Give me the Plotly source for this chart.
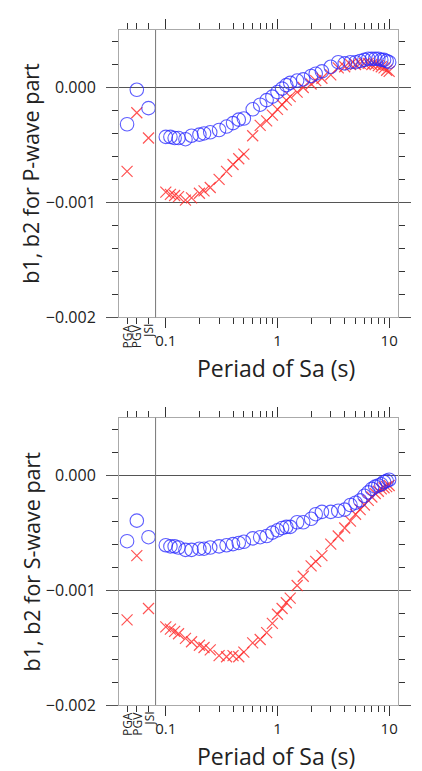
import math
import plotly.graph_objects as go

# periods of Sa (s), plus the PGA / PGV / JSI columns drawn left of the 0.1 s tick
periods = [0.1, 0.11, 0.12, 0.13, 0.15, 0.17, 0.2, 0.22, 0.25, 0.3, 0.35, 0.4, 0.45, 0.5,
           0.6, 0.7, 0.8, 0.9, 1.0, 1.1, 1.2, 1.3, 1.5, 1.7, 2.0, 2.2, 2.5, 3.0, 3.5, 4.0,
           4.5, 5.0, 5.5, 6.0, 6.5, 7.0, 7.5, 8.0, 8.5, 9.0, 9.5, 10.0]
special_names = ['PGA', 'PGV', 'JSI']
special_x = [0.045, 0.055, 0.07]
split_x = 0.081

# P-wave part
p_b1_special = [-0.00032, -0.00002, -0.00018]
p_b1 = [-0.00043, -0.00043, -0.00044, -0.00044, -0.00045, -0.00042, -0.00041, -0.0004,
        -0.00039, -0.00037, -0.00034, -0.00031, -0.00028, -0.00027, -0.00019, -0.00015,
        -0.00011, -0.00008, -0.00004, -0.00001, 0.00002, 0.00004, 0.00006, 0.00007,
        0.0001, 0.00012, 0.00014, 0.00018, 0.00022, 0.00021, 0.00022, 0.00022, 0.00023,
        0.00024, 0.00025, 0.00025, 0.00025, 0.00025, 0.00024, 0.00024, 0.00023, 0.00022]
p_b2_special = [-0.00073, -0.00022, -0.00044]
p_b2 = [-0.00091, -0.00093, -0.00094, -0.00095, -0.00098, -0.00096, -0.00092, -0.0009,
        -0.00087, -0.0008, -0.00073, -0.00067, -0.00062, -0.00058, -0.00042, -0.00033,
        -0.00029, -0.00024, -0.00019, -0.00015, -0.00011, -0.00008, -0.00004, 0.0,
        0.00003, 0.00006, 0.00008, 0.00011, 0.00017, 0.00018, 0.0002, 0.0002, 0.00021,
        0.00021, 0.00021, 0.0002, 0.0002, 0.00019, 0.00018, 0.00017, 0.00015, 0.00014]

# S-wave part
s_b1_special = [-0.000575, -0.000396, -0.00054]
s_b1 = [-0.00061, -0.00062, -0.00062, -0.00063, -0.00065, -0.00065, -0.00064, -0.00064,
        -0.00063, -0.00062, -0.00061, -0.0006, -0.00059, -0.00058, -0.00055, -0.00054,
        -0.00053, -0.0005, -0.00048, -0.00046, -0.00045, -0.00045, -0.00041, -0.00041,
        -0.00038, -0.00034, -0.00032, -0.00032, -0.00031, -0.0003, -0.00026, -0.00024,
        -0.00022, -0.00018, -0.00015, -0.00012, -0.0001, -0.00009, -0.00008, -0.00006,
        -0.00005, -0.00004]
s_b2_special = [-0.00126, -0.0007, -0.00116]
s_b2 = [-0.00132, -0.00134, -0.00136, -0.00138, -0.00142, -0.00145, -0.00148, -0.0015,
        -0.00152, -0.00157, -0.00158, -0.00157, -0.00158, -0.00154, -0.00146, -0.00143,
        -0.00137, -0.00129, -0.00121, -0.00116, -0.00111, -0.00107, -0.00096, -0.00088,
        -0.00079, -0.00075, -0.0007, -0.0006, -0.00053, -0.00046, -0.0004, -0.00034,
        -0.0003, -0.00026, -0.00022, -0.00019, -0.00016, -0.00014, -0.00012, -0.00011,
        -0.0001, -0.00009]

y_major = [-0.002, -0.001, 0.0]
y_major_text = ['\u22120.002', '\u22120.001', '0.000']
x_major = [0.1, 1, 10]
x_major_text = ['0.1', '1', '10']
x_minor = special_x + [0.2, 0.3, 0.4, 0.5, 0.6, 0.7, 0.8, 0.9, 2, 3, 4, 5, 6, 7, 8, 9]

FONT = 'Open Sans'
circle = dict(symbol='circle-open', size=13.5, color='rgba(40,40,255,0.75)',
              line=dict(width=1.1, color='rgba(40,40,255,0.75)'))
cross = dict(symbol='x-thin-open', size=11, color='rgba(255,40,40,0.8)',
             line=dict(width=1.2, color='rgba(255,40,40,0.8)'))

fig = go.Figure()
panels = [('x', 'y', p_b1_special + p_b1, p_b2_special + p_b2),
          ('x2', 'y2', s_b1_special + s_b1, s_b2_special + s_b2)]
for xa, ya, b1, b2 in panels:
    xs = special_x + periods
    fig.add_trace(go.Scatter(x=xs, y=b2, mode='markers', marker=cross, xaxis=xa, yaxis=ya,
                             showlegend=False))
    fig.add_trace(go.Scatter(x=xs, y=b1, mode='markers', marker=circle, xaxis=xa, yaxis=ya,
                             showlegend=False))

xax = dict(type='log', range=[math.log10(0.0381), math.log10(12.0)],
           showline=True, linecolor='#aaaaaa', linewidth=1, mirror='ticks',
           ticks='outside', ticklen=10, tickcolor='#333333', tickwidth=1,
           tickvals=x_major, ticktext=x_major_text, showgrid=False, zeroline=False,
           ticklabelstandoff=0,
           tickfont=dict(family=FONT, size=15, color='#222222'),
           minor=dict(tickvals=x_minor, ticks='outside', ticklen=6, tickcolor='#333333',
                      showgrid=False))
yax = dict(range=[-0.002, 0.0005], showline=True, linecolor='#aaaaaa', linewidth=1,
           mirror='ticks', ticks='outside', ticklen=12, tickcolor='#555555', tickwidth=1,
           tickvals=y_major, ticktext=y_major_text, showgrid=True, gridcolor='#555555',
           gridwidth=1, zeroline=False, ticklabelstandoff=7,
           tickfont=dict(family=FONT, size=16, color='#222222'),
           minor=dict(dtick=0.0002, tick0=0, ticks='outside', ticklen=6,
                      tickcolor='#333333', showgrid=False))

# the page adds an 8 px body margin, so the figure is 8 px smaller each way
top_dom = [0.5743, 1.0]
bot_dom = [0.0, 0.4257]
fig.update_layout(
    width=414, height=763, autosize=False,
    margin=dict(l=111, r=11, t=11, b=66),
    paper_bgcolor='white', plot_bgcolor='white',
    xaxis=dict(xax, anchor='y'),
    yaxis=dict(yax, domain=top_dom, anchor='x'),
    xaxis2=dict(xax, anchor='y2'),
    yaxis2=dict(yax, domain=bot_dom, anchor='x2'),
)

annotations = []
shapes = []
for xa, ya, dom, title in [('x', 'y', top_dom, 'b1, b2 for P-wave part'),
                           ('x2', 'y2', bot_dom, 'b1, b2 for S-wave part')]:
    shapes.append(dict(type='line', xref=xa, yref=ya + ' domain', x0=split_x, x1=split_x,
                       y0=0, y1=1, line=dict(color='#777777', width=1)))
    for name, sx in zip(special_names, special_x):
        annotations.append(dict(text=name, xref=xa, yref='paper', x=math.log10(sx),
                                y=dom[0], yshift=-5, xanchor='center', yanchor='top',
                                textangle=-90, showarrow=False,
                                font=dict(family=FONT, size=12, color='#222222')))
    annotations.append(dict(text='Periad of Sa (s)', xref='paper', yref='paper', x=0.562,
                            y=dom[0], yshift=-51, xanchor='center', yanchor='middle',
                            showarrow=False, font=dict(family=FONT, size=23, color='#222222')))
    annotations.append(dict(text=title, xref='paper', yref='paper', x=-0.315,
                            y=(dom[0] + dom[1]) / 2, xanchor='center', yanchor='middle',
                            textangle=-90, showarrow=False,
                            font=dict(family=FONT, size=21.5, color='#222222')))
fig.update_layout(annotations=annotations, shapes=shapes)

fig.write_html("out.html")
